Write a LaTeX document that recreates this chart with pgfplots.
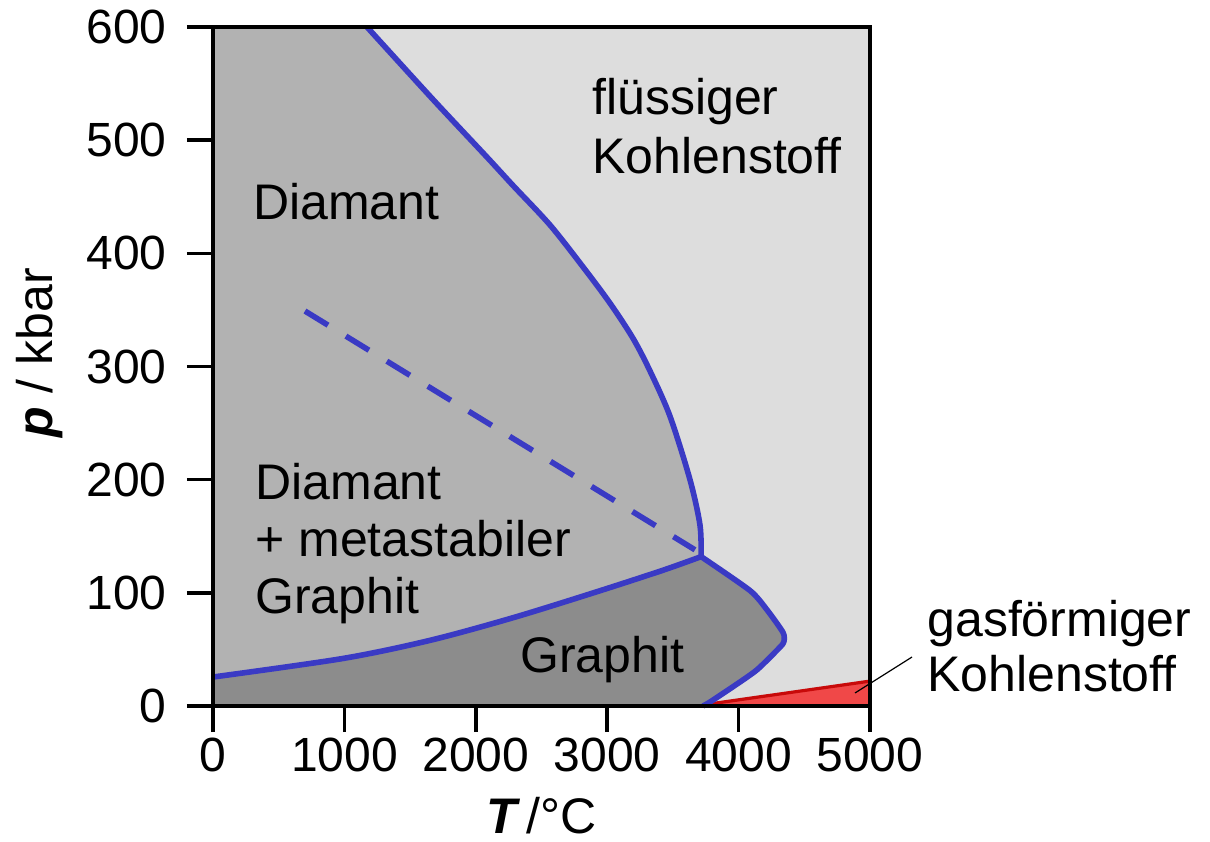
\documentclass[border=0pt]{standalone}
\usepackage{fontspec}
\setmainfont{Liberation Sans}
\usepackage{pgfplots}
\pgfplotsset{compat=1.18}

\definecolor{liquid}{RGB}{221,221,221}
\definecolor{diamond}{RGB}{178,178,178}
\definecolor{graphite}{RGB}{140,140,140}
\definecolor{phase}{RGB}{58,58,196}
\definecolor{gasfill}{RGB}{240,72,72}
\definecolor{gasedge}{RGB}{200,10,10}

\begin{document}
\begin{tikzpicture}
\begin{axis}[
  scale only axis,
  width=328.5pt, height=339.5pt,
  xmin=0, xmax=5000, ymin=0, ymax=600,
  xtick={0,1000,...,5000}, ytick={0,100,...,600},
  scaled ticks=false,
  /pgf/number format/1000 sep={},
  /pgf/number format/assume math mode=true,
  tick label style={font=\fontsize{24}{28}\selectfont},
  yticklabel style={xshift=-10pt},
  xticklabel style={yshift=-3pt},
  tick align=outside, tick pos=left,
  major tick length=13pt,
  every tick/.style={black, line width=1.8pt},
  axis line style={line width=1.8pt},
  axis background/.style={fill=liquid},
  axis on top,
  clip=false,
  xlabel={\textbf{\textit{T}}\hspace{0.12em}/°C},
  ylabel={\textbf{\textit{p}} / kbar},
  every axis x label/.style={at={(axis description cs:0.5,0)}, anchor=base, yshift=-63.5pt, font=\fontsize{25}{30}\selectfont},
  every axis y label/.style={at={(axis description cs:0,0.52)}, xshift=-80pt, rotate=90, anchor=base, font=\fontsize{25}{30}\selectfont},
  nodes={font=\fontsize{25}{30}\selectfont, inner sep=0pt},
]
% Diamant
\addplot[fill=diamond, draw=none] coordinates {
  (0,600) (1172,600) (1674,536) (2085,485) (2283,460) (2565,425)
  (2816,388) (3021,356) (3196,325) (3326,296) (3478,256) (3630,200)
  (3706,160) (3715,132)
  (3425,120) (2922,101) (2283,78) (1651,58) (989,42) (0,25.6)} \closedcycle;
% Graphit
\addplot[fill=graphite, draw=none] coordinates {
  (0,0) (0,25.6) (989,42) (1651,58) (2283,78) (2922,101) (3425,120) (3715,132)
  (4087,102) (4216,85) (4338,65) (4345,57) (4315,52) (4140,32)
  (3957,17) (3782,3.5) (3729,0)} \closedcycle;
% gasfoermig
\addplot[fill=gasfill, draw=none] coordinates {
  (3760,0) (3780,1.8) (5000,22) (5000,0)} \closedcycle;
\addplot[gasedge, line width=1.6pt] coordinates {(3780,1.8) (5000,22)};

% Phasengrenzen
\addplot[phase, line width=2.8pt, smooth] coordinates {
  (1172,600) (1674,536) (2085,485) (2283,460) (2565,425)
  (2816,388) (3021,356) (3196,325) (3326,296) (3478,256) (3630,200)
  (3706,160) (3715,132)};
\addplot[phase, line width=2.8pt, smooth] coordinates {
  (0,25.6) (989,42) (1651,58) (2283,78) (2922,101) (3425,120) (3715,132)};
\addplot[phase, line width=2.8pt, smooth, tension=0.4] coordinates {
  (3715,132) (4087,102) (4216,85) (4338,65) (4345,57) (4315,52)
  (4140,32) (3957,17) (3782,3.5) (3729,0)};
\addplot[phase, line width=2.8pt, dash pattern=on 13.5pt off 10.5pt] coordinates {
  (700,349) (3668,138)};
\addplot[black, line width=0.6pt] coordinates {(4886,11.5) (5320,43.3)};

\node[anchor=base west] at (axis cs:304,429.5) {Diamant};
\node[anchor=base west] at (axis cs:2884,522.3) {flüssiger};
\node[anchor=base west] at (axis cs:2884,470.2) {Kohlenstoff};
\node[anchor=base west] at (axis cs:320,182.9) {Diamant};
\node[anchor=base west] at (axis cs:320,131.7) {+ metastabiler};
\node[anchor=base west] at (axis cs:320,81.3) {Graphit};
\node[anchor=base west] at (axis cs:2336,30) {Graphit};
\node[anchor=base west] at (axis cs:5434,61) {gasförmiger};
\node[anchor=base west] at (axis cs:5434,12.4) {Kohlenstoff};
\end{axis}
\pgfresetboundingbox
\path[use as bounding box] (-106.5pt,-67.5pt) rectangle (498.5pt,353pt);
\end{tikzpicture}
\end{document}
